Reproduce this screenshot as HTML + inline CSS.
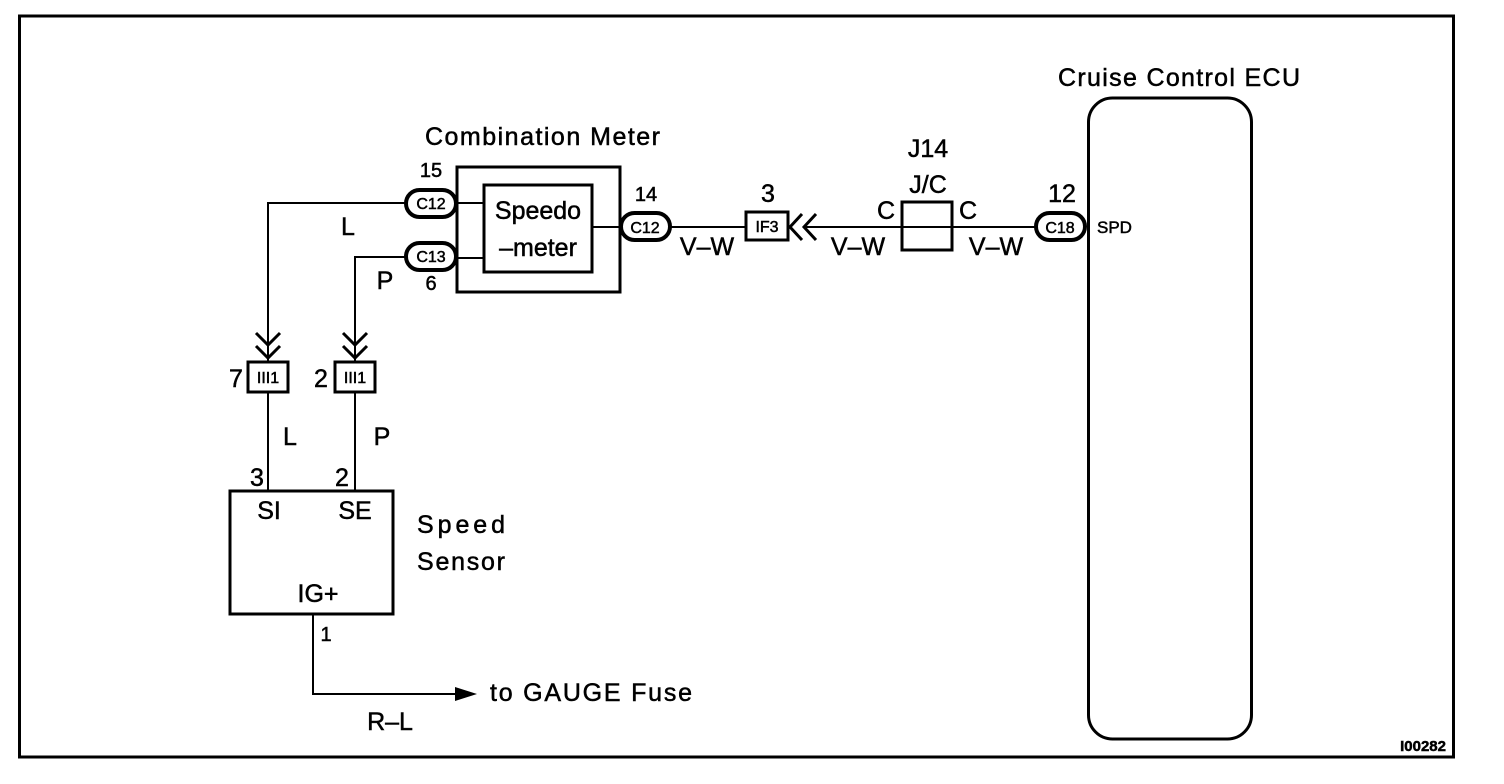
<!DOCTYPE html>
<html><head><style>
html,body{margin:0;padding:0;background:#fff;}
svg{display:block;}
text{font-family:"Liberation Sans",Arial,sans-serif;fill:#000;stroke:#000;stroke-width:0.5;}
</style></head><body>
<svg width="1504" height="784" viewBox="0 0 1504 784" xmlns="http://www.w3.org/2000/svg">
<g fill="none" stroke="#000">
<rect x="19.5" y="16" width="1434" height="741" stroke-width="3"/>
<rect x="457" y="167" width="163" height="125" stroke-width="3"/>
<rect x="484" y="185" width="108" height="87" stroke-width="3"/>
<line x1="457" y1="203" x2="484" y2="203" stroke-width="2"/>
<line x1="457" y1="258" x2="484" y2="258" stroke-width="2"/>
<line x1="592" y1="227" x2="621" y2="227" stroke-width="2"/>
<polyline points="406,203 268,203 268,363" stroke-width="2"/>
<polyline points="406,257 355,257 355,363" stroke-width="2"/>
<polyline points="256,333 268,345 280,333" stroke-width="3"/>
<polyline points="256,346 268,358 280,346" stroke-width="3"/>
<polyline points="343,333 355,345 367,333" stroke-width="3"/>
<polyline points="343,346 355,358 367,346" stroke-width="3"/>
<rect x="248" y="362" width="40" height="30" stroke-width="3"/>
<rect x="335" y="362" width="40" height="30" stroke-width="3"/>
<line x1="268" y1="392" x2="268" y2="490" stroke-width="2"/>
<line x1="355" y1="392" x2="355" y2="490" stroke-width="2"/>
<rect x="230" y="491" width="163" height="123" stroke-width="3"/>
<polyline points="313,614 313,694 458,694" stroke-width="2"/>
<rect x="406" y="190" width="50" height="27" rx="13.5" stroke-width="4" fill="#fff"/>
<rect x="406" y="243" width="50" height="27" rx="13.5" stroke-width="4" fill="#fff"/>
<rect x="621" y="213" width="49" height="27" rx="13.5" stroke-width="4" fill="#fff"/>
<rect x="1036" y="213" width="49" height="27" rx="13.5" stroke-width="4" fill="#fff"/>
<line x1="670" y1="227" x2="746" y2="227" stroke-width="2"/>
<rect x="746" y="212" width="42" height="28" stroke-width="3"/>
<polyline points="802,214 790,227 802,240" stroke-width="3"/>
<polyline points="816,214 804,227 816,240" stroke-width="3"/>
<line x1="806" y1="227" x2="902" y2="227" stroke-width="2"/>
<rect x="902" y="202" width="50" height="48" stroke-width="3"/>
<line x1="902" y1="227" x2="952" y2="227" stroke-width="2"/>
<line x1="952" y1="227" x2="1036" y2="227" stroke-width="2"/>
<rect x="1088.5" y="98" width="163" height="641" rx="24" stroke-width="3"/>
</g>
<polygon points="455,687 477,694 455,701" fill="#000"/>
<g font-size="25">
<text x="425" y="145" textLength="235">Combination Meter</text>
<text x="1058" y="86" textLength="242">Cruise Control ECU</text>
<text x="928" y="157" text-anchor="middle">J14</text>
<text x="928" y="193" text-anchor="middle">J/C</text>
<text x="886" y="219" text-anchor="middle">C</text>
<text x="968" y="219" text-anchor="middle">C</text>
<text x="1062" y="202" text-anchor="middle">12</text>
<text x="768" y="202" text-anchor="middle">3</text>
<text x="707" y="255" text-anchor="middle">V–W</text>
<text x="858" y="255" text-anchor="middle">V–W</text>
<text x="996" y="255" text-anchor="middle">V–W</text>
<text x="538" y="219" text-anchor="middle">Speedo</text>
<text x="538" y="256" text-anchor="middle">–meter</text>
<text x="348" y="235" text-anchor="middle">L</text>
<text x="385" y="289" text-anchor="middle">P</text>
<text x="290" y="445" text-anchor="middle">L</text>
<text x="382" y="445" text-anchor="middle">P</text>
<text x="236" y="387" text-anchor="middle">7</text>
<text x="321" y="387" text-anchor="middle">2</text>
<text x="257" y="486" text-anchor="middle">3</text>
<text x="342" y="486" text-anchor="middle">2</text>
<text x="269" y="519" text-anchor="middle">SI</text>
<text x="355" y="519" text-anchor="middle">SE</text>
<text x="318" y="602" text-anchor="middle">IG+</text>
<text x="417" y="533" textLength="88">Speed</text>
<text x="417" y="570" textLength="88">Sensor</text>
<text x="490" y="701" textLength="202">to GAUGE Fuse</text>
<text x="390" y="730" text-anchor="middle">R–L</text>
</g>
<g font-size="20">
<text x="431" y="177" text-anchor="middle">15</text>
<text x="431" y="290" text-anchor="middle">6</text>
<text x="646" y="201" text-anchor="middle">14</text>
<text x="326" y="641" text-anchor="middle">1</text>
</g>
<g font-size="16" text-anchor="middle">
<text x="431" y="209">C12</text>
<text x="431" y="262">C13</text>
<text x="645" y="233">C12</text>
<text x="1060" y="233">C18</text>
<text x="767" y="232">IF3</text>
<text x="268" y="383">III1</text>
<text x="355" y="383">III1</text>
</g>
<text x="1097" y="233" font-size="17">SPD</text>
<text x="1446" y="751" font-size="15" font-weight="bold" text-anchor="end">I00282</text>
</svg>
</body></html>
